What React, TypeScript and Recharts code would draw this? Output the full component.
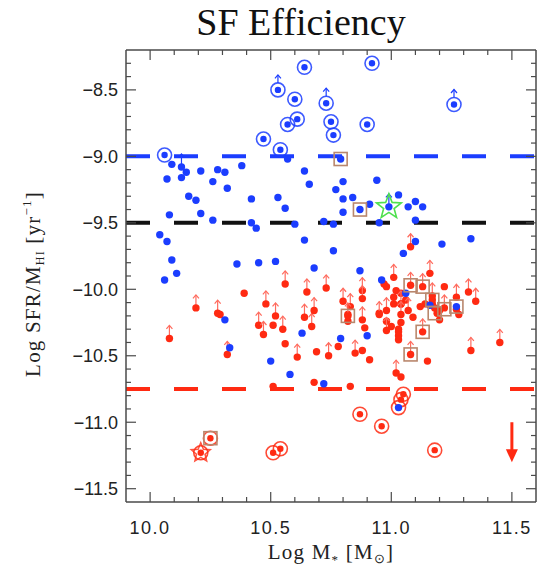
import React from "react";
import { ScatterChart, Scatter, XAxis, YAxis, ReferenceLine } from "recharts";

// tick positions (major every 0.5, minor every 0.1)
const xTicks = [10.0, 10.1, 10.2, 10.3, 10.4, 10.5, 10.6, 10.7, 10.8, 10.9, 11.0, 11.1, 11.2, 11.3, 11.4, 11.5];
const yTicks = [
  -11.5, -11.4, -11.3, -11.2, -11.1, -11.0, -10.9, -10.8, -10.7, -10.6, -10.5, -10.4, -10.3, -10.2, -10.1,
  -10.0, -9.9, -9.8, -9.7, -9.6, -9.5, -9.4, -9.3, -9.2, -9.1, -9.0, -8.9, -8.8, -8.7, -8.6, -8.5, -8.4, -8.3,
];

// reference levels
const blueLevel = -9.0;
const blackLevel = -9.5;
const redLevel = -10.75;

const blueCircled = [
  { x: 10.06, y: -8.99 }, { x: 10.64, y: -8.33 }, { x: 10.6, y: -8.57 }, { x: 10.57, y: -8.76 },
  { x: 10.61, y: -8.72 }, { x: 10.47, y: -8.87 }, { x: 10.54, y: -8.95 }, { x: 10.92, y: -8.3 },
  { x: 10.75, y: -8.74 }, { x: 10.76, y: -8.84 }, { x: 10.9, y: -8.76 },
];
const blueCircledLimits = [{ x: 10.53, y: -8.5 }, { x: 10.73, y: -8.6 }, { x: 11.26, y: -8.61 }];

const blueDots = [
  { x: 10.09, y: -9.06 }, { x: 10.07, y: -9.17 }, { x: 10.13, y: -9.16 }, { x: 10.15, y: -9.12 },
  { x: 10.21, y: -9.11 }, { x: 10.28, y: -9.1 }, { x: 10.31, y: -9.12 }, { x: 10.38, y: -9.07 },
  { x: 10.26, y: -9.19 }, { x: 10.32, y: -9.24 }, { x: 10.16, y: -9.3 }, { x: 10.19, y: -9.33 },
  { x: 10.42, y: -9.32 }, { x: 10.08, y: -9.44 }, { x: 10.21, y: -9.43 }, { x: 10.26, y: -9.48 },
  { x: 10.42, y: -9.5 }, { x: 10.44, y: -9.54 }, { x: 10.53, y: -9.31 }, { x: 10.56, y: -9.39 },
  { x: 10.04, y: -9.59 }, { x: 10.07, y: -9.64 }, { x: 10.09, y: -9.78 }, { x: 10.11, y: -9.88 },
  { x: 10.06, y: -9.93 }, { x: 10.36, y: -9.81 }, { x: 10.45, y: -9.8 }, { x: 10.52, y: -9.79 },
  { x: 10.57, y: -9.02 }, { x: 10.64, y: -9.11 }, { x: 10.66, y: -9.21 }, { x: 10.6, y: -9.51 },
  { x: 10.64, y: -9.63 }, { x: 10.77, y: -9.25 }, { x: 10.8, y: -9.19 }, { x: 10.8, y: -9.32 },
  { x: 10.84, y: -9.31 }, { x: 10.8, y: -9.42 }, { x: 10.87, y: -9.4 }, { x: 10.91, y: -9.36 },
  { x: 10.94, y: -9.18 }, { x: 11.03, y: -9.29 }, { x: 11.07, y: -9.38 }, { x: 11.1, y: -9.34 },
  { x: 11.13, y: -9.38 }, { x: 11.1, y: -9.48 }, { x: 10.72, y: -9.49 }, { x: 10.76, y: -9.51 },
  { x: 10.95, y: -9.5 }, { x: 10.76, y: -9.71 }, { x: 11.05, y: -9.73 }, { x: 11.1, y: -9.64 },
  { x: 11.21, y: -9.66 }, { x: 11.33, y: -9.62 }, { x: 10.68, y: -9.84 }, { x: 10.87, y: -9.86 },
  { x: 10.31, y: -10.23 }, { x: 10.33, y: -10.44 }, { x: 10.5, y: -10.54 }, { x: 10.58, y: -10.64 },
  { x: 10.63, y: -10.33 }, { x: 10.96, y: -9.93 }, { x: 11.06, y: -10.03 }, { x: 11.16, y: -10.12 },
  { x: 10.79, y: -10.37 }, { x: 10.9, y: -10.35 }, { x: 10.72, y: -10.71 }, { x: 11.27, y: -10.13 },
  { x: 11.03, y: -10.89 }, { x: 10.79, y: -9.02 },
];
const blueLimits = [{ x: 10.13, y: -9.08 }, { x: 10.99, y: -9.38 }];

const redDots = [
  { x: 10.39, y: -10.03 }, { x: 10.29, y: -10.19 }, { x: 10.51, y: -10.27 }, { x: 10.56, y: -10.41 },
  { x: 10.69, y: -10.47 }, { x: 10.68, y: -10.7 }, { x: 10.51, y: -10.73 }, { x: 10.78, y: -10.43 },
  { x: 10.88, y: -10.46 }, { x: 10.91, y: -10.53 }, { x: 10.82, y: -10.19 }, { x: 10.89, y: -10.29 },
  { x: 10.95, y: -10.18 }, { x: 10.83, y: -10.73 }, { x: 10.82, y: -10.24 }, { x: 11.0, y: -10.28 },
  { x: 10.97, y: -9.96 }, { x: 10.98, y: -9.98 }, { x: 11.02, y: -10.01 }, { x: 11.04, y: -10.03 },
  { x: 11.01, y: -10.06 }, { x: 11.06, y: -10.08 }, { x: 11.04, y: -10.25 }, { x: 11.03, y: -10.3 },
  { x: 11.03, y: -10.35 }, { x: 11.03, y: -10.38 }, { x: 11.22, y: -9.98 }, { x: 11.17, y: -10.11 },
  { x: 11.18, y: -10.14 }, { x: 11.19, y: -10.18 }, { x: 11.2, y: -10.16 }, { x: 11.28, y: -10.19 },
  { x: 11.15, y: -10.54 }, { x: 11.04, y: -10.66 }, { x: 11.01, y: -10.11 }, { x: 11.04, y: -10.11 },
  { x: 10.98, y: -10.24 }, { x: 11.03, y: -10.32 }, { x: 11.09, y: -10.21 }, { x: 11.12, y: -10.13 },
  { x: 11.14, y: -10.11 }, { x: 11.2, y: -10.23 }, { x: 11.27, y: -10.15 }, { x: 11.17, y: -10.08 },
];
const redLimits = [
  { x: 10.08, y: -10.37 }, { x: 10.19, y: -10.14 }, { x: 10.28, y: -10.18 }, { x: 10.32, y: -10.49 },
  { x: 10.45, y: -10.27 }, { x: 10.48, y: -10.11 }, { x: 10.47, y: -10.34 }, { x: 10.52, y: -10.2 },
  { x: 10.55, y: -10.3 }, { x: 10.56, y: -9.96 }, { x: 10.61, y: -10.51 }, { x: 10.65, y: -10.02 },
  { x: 10.64, y: -10.21 }, { x: 10.67, y: -10.28 }, { x: 10.68, y: -10.16 }, { x: 10.73, y: -9.99 },
  { x: 10.74, y: -10.5 }, { x: 10.85, y: -10.48 }, { x: 10.8, y: -10.09 }, { x: 10.83, y: -10.13 },
  { x: 10.88, y: -10.01 }, { x: 10.88, y: -10.23 }, { x: 10.82, y: -10.2 }, { x: 10.88, y: -10.07 },
  { x: 10.95, y: -10.19 }, { x: 10.98, y: -10.16 }, { x: 10.98, y: -10.31 }, { x: 11.01, y: -9.91 },
  { x: 11.04, y: -10.11 }, { x: 11.07, y: -10.16 }, { x: 11.04, y: -10.19 }, { x: 11.08, y: -9.97 },
  { x: 11.13, y: -9.98 }, { x: 11.16, y: -9.88 }, { x: 11.17, y: -10.05 }, { x: 11.22, y: -10.14 },
  { x: 11.27, y: -10.06 }, { x: 11.32, y: -10.02 }, { x: 11.35, y: -10.09 }, { x: 11.13, y: -10.32 },
  { x: 11.08, y: -10.49 }, { x: 11.33, y: -10.46 }, { x: 11.45, y: -10.4 }, { x: 11.02, y: -10.63 },
  { x: 11.08, y: -9.68 },
];
const redCircled = [
  { x: 10.87, y: -10.94 }, { x: 10.96, y: -11.03 }, { x: 11.03, y: -10.89 }, { x: 11.04, y: -10.83 },
  { x: 11.05, y: -10.79 }, { x: 11.18, y: -11.21 }, { x: 10.51, y: -11.23 }, { x: 10.54, y: -11.2 },
  { x: 10.25, y: -11.12 }, { x: 10.21, y: -11.23 },
];
const squares = [
  { x: 10.79, y: -9.02 }, { x: 10.87, y: -9.4 }, { x: 10.82, y: -10.2 }, { x: 11.08, y: -9.97 },
  { x: 11.13, y: -9.98 }, { x: 11.17, y: -10.08 }, { x: 11.18, y: -10.18 }, { x: 11.22, y: -10.15 },
  { x: 11.27, y: -10.13 }, { x: 11.13, y: -10.32 }, { x: 11.08, y: -10.49 }, { x: 10.25, y: -11.12 },
];
const greenStar = [{ x: 10.99, y: -9.38 }];
const redStar = [{ x: 10.21, y: -11.23 }];
const downArrow = [{ x: 11.5, y: -11.0 }];

const BLUE = "#1b3dff";
const RED = "#ff2a12";
const RED_ARROW = "#ff6b5e";
const BROWN = "#b9876d";
const GREEN = "#4ee04e";
const FRAME = "#4a4a4a";
const TICK_FONT = "'Liberation Sans', Arial, sans-serif";
const SERIF = "'Liberation Serif', 'Times New Roman', serif";

const isMajor = (v: number) => Math.abs(v * 2 - Math.round(v * 2)) < 1e-6;
const fmt = (v: number) => (v < 0 ? "\u2212" : "") + Math.abs(v).toFixed(1);

const starPoints = (cx: number, cy: number, ro: number, ri: number) => {
  const pts: string[] = [];
  for (let i = 0; i < 10; i++) {
    const r = i % 2 === 0 ? ro : ri;
    const a = -Math.PI / 2 + (i * Math.PI) / 5;
    pts.push(`${cx + r * Math.cos(a)},${cy + r * Math.sin(a)}`);
  }
  return pts.join(" ");
};

const UpArrow = ({ cx, cy, color, from, len }: any) => (
  <g stroke={color} strokeWidth={1.2} fill="none">
    <line x1={cx} x2={cx} y1={cy - from} y2={cy - from - len} />
    <polyline points={`${cx - 3},${cy - from - len + 3.5} ${cx},${cy - from - len} ${cx + 3},${cy - from - len + 3.5}`} />
  </g>
);

const dotShape = (color: string) => (p: any) => <circle cx={p.cx} cy={p.cy} r={3.7} fill={color} />;

const limitShape = (color: string, arrowColor: string) => (p: any) => (
  <g>
    <UpArrow cx={p.cx} cy={p.cy} color={arrowColor} from={2} len={11} />
    <circle cx={p.cx} cy={p.cy} r={3.7} fill={color} />
  </g>
);

const ringShape = (color: string, arrow: boolean) => (p: any) => (
  <g>
    <circle cx={p.cx} cy={p.cy} r={7} fill="none" stroke={color} strokeWidth={1.6} opacity={0.85} />
    <circle cx={p.cx} cy={p.cy} r={3.2} fill={color} />
    {arrow && <UpArrow cx={p.cx} cy={p.cy} color={color} from={7} len={8} />}
  </g>
);

const squareShape = (p: any) => (
  <rect x={p.cx - 6.5} y={p.cy - 6.5} width={13} height={13} fill="none" stroke={BROWN} strokeWidth={1.6} />
);

const greenStarShape = (p: any) => (
  <polygon points={starPoints(p.cx, p.cy, 13, 5.5)} fill="none" stroke={GREEN} strokeWidth={1.6} />
);

const redStarShape = (p: any) => (
  <polygon points={starPoints(p.cx, p.cy, 10, 4.5)} fill="none" stroke={RED} strokeWidth={1.5} opacity={0.8} />
);

const downArrowShape = (p: any) => (
  <g>
    <line x1={p.cx} x2={p.cx} y1={p.cy} y2={p.cy + 30} stroke={RED} strokeWidth={3} />
    <polygon points={`${p.cx - 6},${p.cy + 27} ${p.cx + 6},${p.cy + 27} ${p.cx},${p.cy + 40}`} fill={RED} />
  </g>
);

const BottomTick = (props: any) => {
  const { x, y, payload } = props;
  const major = isMajor(payload.value);
  return (
    <g>
      <line x1={x} x2={x} y1={y} y2={y - (major ? 10 : 5)} stroke={FRAME} strokeWidth={1.2} />
      {major && (
        <text x={x} y={y + 32} textAnchor="middle" fontFamily={TICK_FONT} fontSize={18} letterSpacing={1.5} fill="#222">
          {payload.value.toFixed(1)}
        </text>
      )}
    </g>
  );
};

const TopTick = (props: any) => {
  const { x, y, payload } = props;
  const major = isMajor(payload.value);
  return <line x1={x} x2={x} y1={y} y2={y + (major ? 10 : 5)} stroke={FRAME} strokeWidth={1.2} />;
};

const LeftTick = (props: any) => {
  const { x, y, payload } = props;
  const major = isMajor(payload.value);
  return (
    <g>
      <line x1={x} x2={x + (major ? 10 : 5)} y1={y} y2={y} stroke={FRAME} strokeWidth={1.2} />
      {major && (
        <text x={x - 8} y={y} dy="0.36em" textAnchor="end" fontFamily={TICK_FONT} fontSize={18} fill="#222">
          {fmt(payload.value)}
        </text>
      )}
    </g>
  );
};

const RightTick = (props: any) => {
  const { x, y, payload } = props;
  const major = isMajor(payload.value);
  return <line x1={x} x2={x - (major ? 10 : 5)} y1={y} y2={y} stroke={FRAME} strokeWidth={1.2} />;
};

const none = () => <g />;

export default function App() {
  return (
    <div style={{ position: "absolute", left: 0, top: 0, width: 544, height: 569, background: "#fff" }}>
      <ScatterChart width={544} height={569} margin={{ top: 49, right: 7, bottom: 0, left: 0 }}>
        <XAxis
          type="number"
          dataKey="x"
          domain={[9.9, 11.6]}
          allowDataOverflow
          ticks={xTicks}
          interval={0}
          height={67}
          tickSize={0}
          tickMargin={0}
          tickLine={false}
          axisLine={{ stroke: FRAME, strokeWidth: 1.5 }}
          tick={<BottomTick />}
        />
        <XAxis
          xAxisId="top"
          orientation="top"
          type="number"
          dataKey="x"
          domain={[9.9, 11.6]}
          allowDataOverflow
          ticks={xTicks}
          interval={0}
          height={1}
          tickSize={0}
          tickMargin={0}
          tickLine={false}
          axisLine={{ stroke: FRAME, strokeWidth: 1.5 }}
          tick={<TopTick />}
        />
        <YAxis
          type="number"
          dataKey="y"
          domain={[-11.6, -8.2]}
          allowDataOverflow
          ticks={yTicks}
          interval={0}
          width={126}
          tickSize={0}
          tickMargin={0}
          tickLine={false}
          axisLine={{ stroke: FRAME, strokeWidth: 1.5 }}
          tick={<LeftTick />}
        />
        <YAxis
          yAxisId="right"
          orientation="right"
          type="number"
          dataKey="y"
          domain={[-11.6, -8.2]}
          allowDataOverflow
          ticks={yTicks}
          interval={0}
          width={1}
          tickSize={0}
          tickMargin={0}
          tickLine={false}
          axisLine={{ stroke: FRAME, strokeWidth: 1.5 }}
          tick={<RightTick />}
        />
        <ReferenceLine y={blueLevel} stroke={BLUE} strokeWidth={4} strokeDasharray="24 24" />
        <ReferenceLine y={blackLevel} stroke="#111" strokeWidth={4} strokeDasharray="24 24" />
        <ReferenceLine y={redLevel} stroke={RED} strokeWidth={4} strokeDasharray="24 24" />

        <Scatter data={greenStar} xAxisId="top" yAxisId="right" shape={none} isAnimationActive={false} />
        <Scatter data={redCircled} shape={ringShape(RED, false)} isAnimationActive={false} />
        <Scatter data={redDots} shape={dotShape(RED)} isAnimationActive={false} />
        <Scatter data={redLimits} shape={limitShape(RED, RED_ARROW)} isAnimationActive={false} />
        <Scatter data={blueDots} shape={dotShape(BLUE)} isAnimationActive={false} />
        <Scatter data={blueLimits} shape={limitShape(BLUE, BLUE)} isAnimationActive={false} />
        <Scatter data={blueCircled} shape={ringShape(BLUE, false)} isAnimationActive={false} />
        <Scatter data={blueCircledLimits} shape={ringShape(BLUE, true)} isAnimationActive={false} />
        <Scatter data={squares} shape={squareShape} isAnimationActive={false} />
        <Scatter data={greenStar} shape={greenStarShape} isAnimationActive={false} />
        <Scatter data={redStar} shape={redStarShape} isAnimationActive={false} />
        <Scatter data={downArrow} shape={downArrowShape} isAnimationActive={false} />
      </ScatterChart>
      <svg width={544} height={569} style={{ position: "absolute", left: 0, top: 0, pointerEvents: "none" }}>
        <text x={301} y={35} textAnchor="middle" fontFamily={SERIF} fontSize={38} fill="#111">
          SF Efficiency
        </text>
        <text x={331} y={559} textAnchor="middle" fontFamily={SERIF} fontSize={21} letterSpacing={1.2} fill="#222">
          Log M
          <tspan fontSize={13} dy={5}>*</tspan>
          <tspan dy={-5}> [M</tspan>
          <tspan fontSize={13} dy={4}>{"\u2299"}</tspan>
          <tspan dy={-4}>]</tspan>
        </text>
        <text
          transform="translate(40,284) rotate(-90)"
          textAnchor="middle"
          fontFamily={SERIF}
          fontSize={21}
          letterSpacing={1.2}
          fill="#222"
        >
          Log SFR/M
          <tspan fontSize={12} dy={4}>HI</tspan>
          <tspan dy={-4}> [yr</tspan>
          <tspan fontSize={13} dy={-9}>{"\u22121"}</tspan>
          <tspan dy={9}>]</tspan>
        </text>
      </svg>
    </div>
  );
}
